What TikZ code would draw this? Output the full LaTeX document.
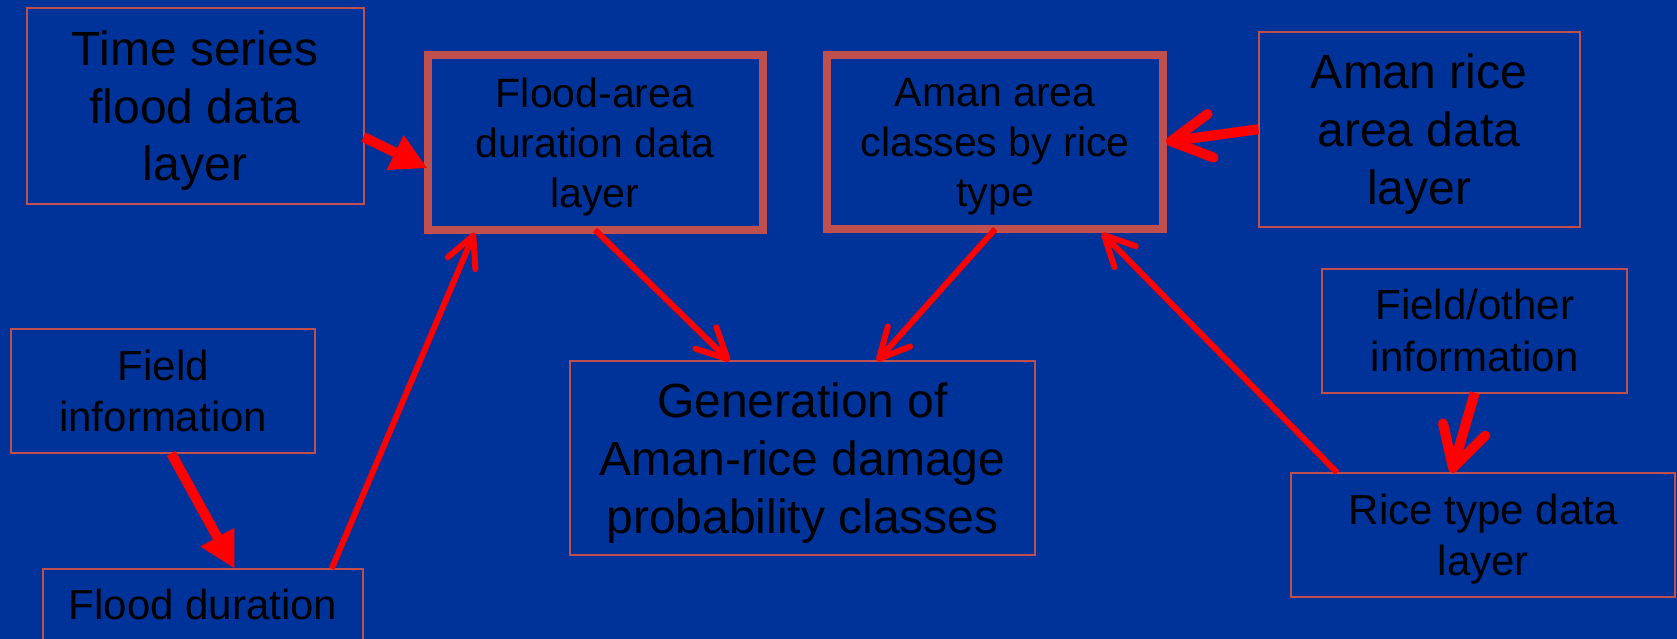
\documentclass[tikz,border=0pt]{standalone}
\usepackage{fontspec}
\setmainfont{Liberation Sans}
\usetikzlibrary{arrows.meta,calc}
\definecolor{bg}{RGB}{0,51,153}
\definecolor{boxc}{RGB}{192,80,77}
\definecolor{arr}{RGB}{255,0,0}
\newcommand\nodepth[1]{\raisebox{0pt}[\height][0pt]{#1}}
\begin{document}
\begin{tikzpicture}[x=1pt,y=-1pt,
  box/.style={draw=boxc, line width=2pt, rectangle, outer sep=0pt, inner sep=0pt, align=center, text=black},
  thickbox/.style={box, line width=8pt},
  big/.style={font=\fontsize{48}{57.6}\selectfont},
  mid/.style={font=\fontsize{42}{51.6}\selectfont},
  small/.style={font=\fontsize{41}{50}\selectfont},
  thinarr/.style={draw=arr, line width=6pt, -{Straight Barb[length=30pt,width=30pt,round]}},
  thickbarb/.style={draw=arr, line width=10pt, -{Straight Barb[length=40pt,width=44pt,round]}},
  thickfill/.style={draw=arr, line width=10pt, -{Triangle[length=36pt,width=36pt]}}
]
\fill[bg] (0,0) rectangle (1677,639);
\useasboundingbox (0,0) rectangle (1677,639);
\clip (0,0) rectangle (1677,639);

\node (ts) [box, big, minimum width=337pt, minimum height=195pt] at (195,106) {Time series\\flood data\\\nodepth{layer}};
\node (fa) [thickbox, small, minimum width=335pt, minimum height=175pt] at (595,142.3) {Flood-area\\duration data\\\nodepth{layer}};
\node (aa) [thickbox, small, minimum width=335.6pt, minimum height=174.3pt] at (995.2,141.9) {Aman area\\classes by rice\\\nodepth{type}};
\node (ar) [box, big, minimum width=321pt, minimum height=195pt] at (1419,129.2) {Aman rice\\area data\\\nodepth{layer}};
\node (fi) [box, mid, minimum width=304pt, minimum height=124.6pt] at (163.2,391) {Field\\information};
\node (fd) [box, minimum width=320.4pt, minimum height=125pt, anchor=north] at (203,568.7) {};
\node (fdt) [mid, text=black, inner sep=0pt, anchor=base] at ([yshift=-50.3pt]fd.north) {Flood duration};
\node (gen) [box, big, minimum width=464.5pt, minimum height=194.3pt] at (802.6,458.2) {Generation of\\Aman-rice damage\\\nodepth{probability classes}};
\node (fo) [box, mid, minimum width=304.8pt, minimum height=124pt] at (1474.8,330.7) {Field/other\\information};
\node (rt) [box, mid, minimum width=384.3pt, minimum height=124pt] at (1483.2,534.7) {Rice type data\\\nodepth{layer}};

\draw[thickfill] ([yshift=-31pt]ts.east) -- ([yshift=-26pt]fa.west);
\draw[thickfill] ([xshift=8pt]fi.south) -- ([xshift=31.7pt]fd.north);
\draw[thinarr] ([xshift=128.6pt]fd.north) -- ([xshift=-120.5pt,yshift=-3pt]fa.south);
\draw[thinarr] (fa.south) -- ([xshift=-73pt]gen.north);
\draw[thinarr] (aa.south) -- ([xshift=74.4pt]gen.north);
\draw[thinarr] ([xshift=-146pt]rt.north) -- ([xshift=106.8pt,yshift=-4pt]aa.south);
\draw[thickbarb] (ar.west) -- ([xshift=3pt]aa.east);
\draw[thickbarb] (fo.south) -- ([xshift=-31.6pt]rt.north);
\end{tikzpicture}
\end{document}
